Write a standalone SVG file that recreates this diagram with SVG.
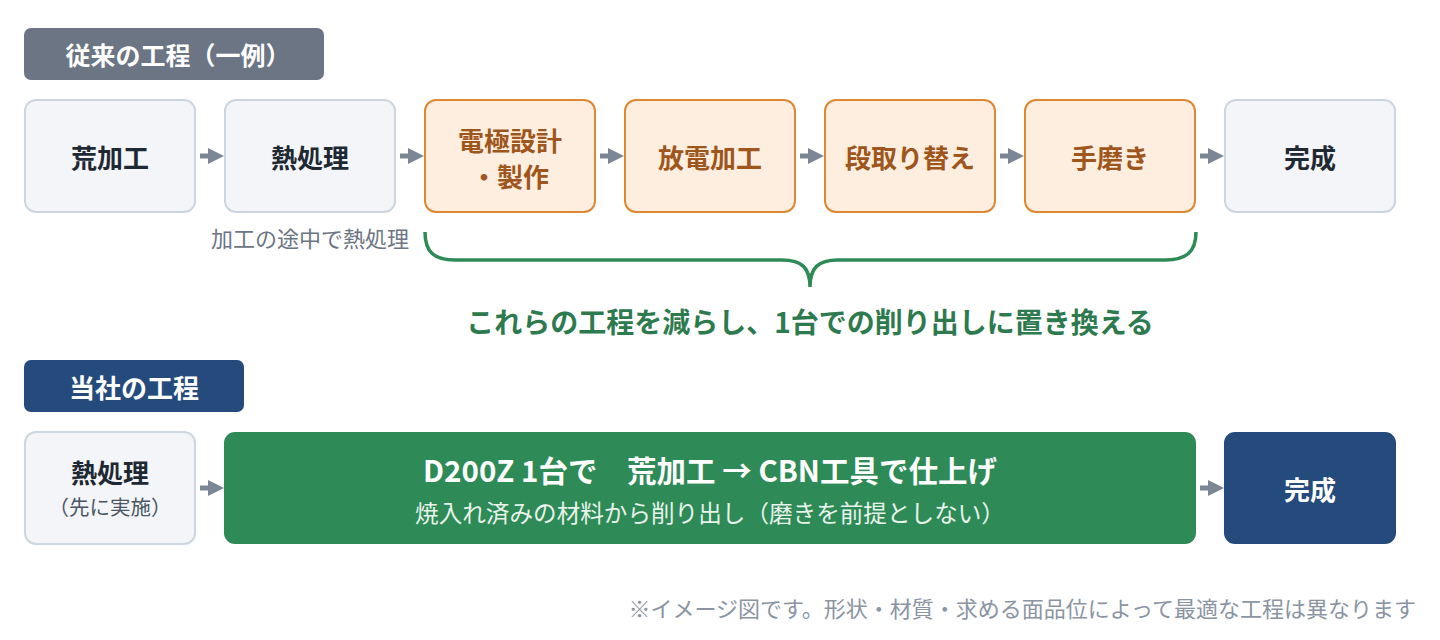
<svg xmlns="http://www.w3.org/2000/svg" width="1440" height="640" viewBox="0 0 1440 640">
<defs>
<marker id="ah" viewBox="0 0 10 10" refX="0" refY="5" markerWidth="3.2" markerHeight="3.8" markerUnits="strokeWidth" orient="auto">
<path d="M0,0 L10,5 L0,10 z" fill="#7c8795"/>
</marker>
<style>
text{font-family:"Noto Sans CJK JP","Noto Sans",sans-serif;dominant-baseline:central;text-anchor:middle}
.gray rect{fill:#f3f5f8;stroke:#cdd5df;stroke-width:2}
.orange rect{fill:#fdeee0;stroke:#de8833;stroke-width:2}
.gray text{fill:#1f2933;font-size:26px;font-weight:700}
.orange text{fill:#9e561c;font-size:26px;font-weight:700}
.conn line{stroke:#7c8795;stroke-width:5;marker-end:url(#ah)}
.lbl{fill:#ffffff;font-size:26px;font-weight:700}
</style>
</defs>
<rect width="1440" height="640" fill="#ffffff"/>

<g id="title-old">
<rect x="24" y="28" width="300" height="52" rx="7" fill="#6b7583"/>
<text x="178" y="54" class="lbl" style="font-size:25px">従来の工程（一例）</text>
</g>

<g id="n1" class="gray"><rect x="25" y="100" width="170" height="112" rx="11"/><text x="110" y="156">荒加工</text></g>
<g id="n2" class="gray"><rect x="225" y="100" width="170" height="112" rx="11"/><text x="310" y="156">熱処理</text></g>
<g id="n3" class="orange"><rect x="425" y="100" width="170" height="112" rx="11"/><text x="510" y="139">電極設計</text><text x="510" y="175">・製作</text></g>
<g id="n4" class="orange"><rect x="625" y="100" width="170" height="112" rx="11"/><text x="710" y="156">放電加工</text></g>
<g id="n5" class="orange"><rect x="825" y="100" width="170" height="112" rx="11"/><text x="910" y="156">段取り替え</text></g>
<g id="n6" class="orange"><rect x="1025" y="100" width="170" height="112" rx="11"/><text x="1110" y="156">手磨き</text></g>
<g id="n7" class="gray"><rect x="1225" y="100" width="170" height="112" rx="11"/><text x="1310" y="156">完成</text></g>

<g id="note-heat"><text x="310" y="237" font-size="22" fill="#6b7583">加工の途中で熱処理</text></g>

<g id="brace">
<path d="M425,232 C425,252 434,260 455,260 L782,260 C802,260 810,268 810,287 C810,268 818,260 838,260 L1165,260 C1186,260 1196,252 1196,232" fill="none" stroke="#2e8a57" stroke-width="3.5"/>
<text x="810" y="321" font-size="28" font-weight="700" fill="#2e7a4f">これらの工程を減らし、1台での削り出しに置き換える</text>
</g>

<g id="title-new">
<rect x="24" y="360" width="220" height="52" rx="7" fill="#254a7c"/>
<text x="134" y="386" class="lbl">当社の工程</text>
</g>

<g id="m1" class="gray"><rect x="25" y="432" width="170" height="112" rx="11"/><text x="110" y="471">熱処理</text><text x="110" y="506" style="font-size:20.5px;font-weight:400;fill:#4b5563">（先に実施）</text></g>

<g id="m2">
<rect x="224" y="432" width="972" height="112" rx="11" fill="#2e8a57"/>
<text x="710" y="469" font-size="29.5" font-weight="700" fill="#ffffff">D200Z 1台で　荒加工 → CBN工具で仕上げ</text>
<text x="710" y="512" font-size="23.6" fill="#e8f3ec">焼入れ済みの材料から削り出し（磨きを前提としない）</text>
</g>

<g id="m3"><rect x="1224" y="432" width="172" height="112" rx="11" fill="#254a7c"/><text x="1310" y="488" class="lbl">完成</text></g>

<g id="connectors" class="conn">
<line x1="200" y1="156" x2="208" y2="156"/>
<line x1="400" y1="156" x2="408" y2="156"/>
<line x1="600" y1="156" x2="608" y2="156"/>
<line x1="800" y1="156" x2="808" y2="156"/>
<line x1="1000" y1="156" x2="1008" y2="156"/>
<line x1="1200" y1="156" x2="1208" y2="156"/>
<line x1="200" y1="488" x2="208" y2="488"/>
<line x1="1200" y1="488" x2="1208" y2="488"/>
</g>

<g id="footnote"><text x="1416" y="607" font-size="22" fill="#8a94a2" style="text-anchor:end">※イメージ図です。形状・材質・求める面品位によって最適な工程は異なります</text></g>
</svg>
